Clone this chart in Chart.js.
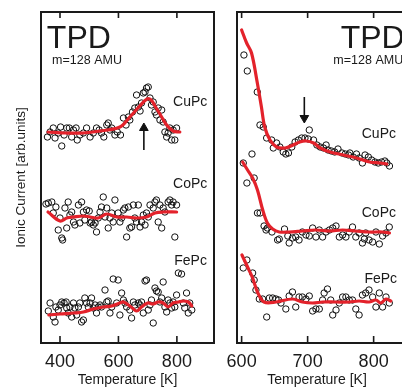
<!DOCTYPE html>
<html><head><meta charset="utf-8">
<script src="https://cdn.jsdelivr.net/npm/chart.js@4.4.1/dist/chart.umd.min.js"></script>
<style>
html,body{margin:0;padding:0;width:402px;height:389px;overflow:hidden;background:#fff;}
#cl{position:absolute;left:0;top:0;width:222px;height:389px;}
#cr{position:absolute;left:222px;top:0;width:200px;height:389px;}
</style></head><body>
<canvas id="cl" width="222" height="389"></canvas>
<canvas id="cr" width="200" height="389"></canvas>
<script>
// ---------- Left panel (400-800 K) ----------
const leftTicks = [400, 600, 800];
const cuLeftT = [357,366,377,383,394,402,406,414,423,432,440,446,455,459,468,480,491,503,514,525,534,542,550,560,565,571,577,588,596,607,617,626,634,639,648,656,662,668,674,679,685,691,696,702,708,713,719,725,730,736,742,748,753,759,765,770,776,782,787,793,799];
const cuLeftI = [206,211,215,205,210,216,197,208,215,215,206,213,215,203,208,210,215,206,210,215,213,210,206,218,220,213,215,208,211,208,225,218,226,223,231,235,248,236,232,240,250,251,255,256,245,238,241,231,228,235,223,233,221,211,206,210,215,203,213,203,215];
const cuLeftFitT = [359,420,479,537,605,639,673,698,712,725,742,765,787,810];
const cuLeftFitI = [211,210,210,212,216,226,237,244,243,237,229,218,212,211];

const coLeftT = [352,360,372,377,386,394,400,406,409,417,423,428,434,440,446,451,463,468,474,480,485,491,500,503,508,514,520,525,531,537,542,548,554,560,565,571,577,582,588,599,605,611,617,622,628,634,639,645,651,656,662,668,674,679,685,691,696,702,708,719,725,730,736,742,748,753,759,770,776,782,787,793,799];
const coLeftI = [139,140,141,130,136,113,125,105,103,135,115,141,128,131,121,118,138,120,141,131,123,133,132,120,121,118,120,111,125,131,136,146,126,135,115,125,130,121,143,130,121,125,133,135,106,136,115,116,138,125,121,138,116,121,128,118,130,126,138,135,141,143,121,138,115,135,131,141,143,138,141,106,138];
const coLeftFitT = [359,400,423,446,480,503,531,560,594,628,662,696,725,753,799];
const coLeftFitI = [131,122,125,126,127,126,125,129,126,126,125,126,130,131,131];

const feLeftT = [360,366,377,383,386,394,400,406,414,421,423,428,434,440,446,451,457,463,468,474,480,485,491,497,503,508,514,520,525,531,537,542,554,560,565,571,577,582,594,599,605,611,617,622,628,639,645,651,656,668,674,679,685,691,696,702,708,713,719,725,730,736,742,748,753,759,765,770,776,782,787,793,799,805,816,822,827,833,839,844,851];
const feLeftI = [32,40,26,21,36,33,38,41,40,41,35,30,36,26,40,35,28,36,40,21,23,45,40,36,40,45,35,38,30,36,38,36,53,41,42,30,36,64,40,63,28,50,43,40,36,33,25,41,38,40,38,41,30,62,63,33,38,43,20,55,52,51,41,45,61,36,31,43,40,35,41,36,48,70,69,40,35,50,30,40,33];
const feLeftFitT = [362,400,446,480,514,548,577,605,617,639,662,679,700,719,736,753,770,787,805,822,839,851];
const feLeftFitI = [28,29,30,31,34,36,37,40,41,37,32,36,40,39,41,40,36,40,41,42,41,37];

// ---------- Right panel (600-800 K) ----------
const rightTicks = [600, 700, 800];
const cuRightT = [603.5,608.6,623.7,627.8,632.8,637.9,645.5,648,653,658,663,667,671,676,681,686,691,696,701,702.5,709,714,719,724,728,731,736,741,746,752,757,762,764,769,774,778,783,787,792,797,802,807,812,817,820,824];
const cuRightI = [288,272,251,218,216,205,203,195,200,196,191,189,190,196,201,203,205,205,204,213,203,198,196,195,198,193,192,191,194,190,189,188,190,186,189,185,180,188,186,183,181,180,181,182,180,177];
const cuRightFitT = [600,607.6,615,623,630,635,643,653,666,678,688,698,709,719,734,754,774,794,810,820];
const cuRightFitI = [313,300,290,263,236,216,203,196,195,198,201,202,200,195,191,188,185,181,180,179];

const coRightT = [602.5,608,615.7,619,624,628,634,637,639,646,654.5,657,665,670,672,677,682,687,692,697.5,702.5,707.6,712.6,717.7,722.7,727.8,733,738,743,748,753,758,763,768,773,778,783,786,788,793,798.5,803.5,808.6,813.6,818.7,823.7];
const coRightI = [180,160,189,165,130,130,117,113,115,111,103,104,114,107,100,105,106,103,111,108,107,115,106,113,106,111,113,115,117,106,108,106,111,116,106,110,100,104,110,103,101,111,99,107,110,116];
const coRightFitT = [601.5,609,616.7,624,632,639,647,657,672,692,712,733,753,773,793,813.6,824];
const coRightFitI = [181,173,165,153,133,120,114,111,111,112,113,112,113,112,111,111,110];

const feRightT = [602.5,608,616.7,619,621.7,626.8,631.8,638,642,647,652,656,659.6,667,672,677,682,687,692,697.5,702.5,707.6,712.6,717.7,722.7,725,730,735,738,743,748,753,758,763,768,773,778,783,788,793,798.5,803.5,808.6,813.6,818.7,823.7];
const feRightI = [75,83,70,63,53,44,44,26,45,45,44,43,40,34,47,51,36,46,46,44,47,32,34,34,43,50,54,43,28,33,40,46,46,43,43,34,28,48,50,53,46,36,50,36,46,40];
const feRightFitT = [600.5,609,616.7,624,634,652,677,692,707.6,722.7,743,763,778,793,803.5,811,818.7,826];
const feRightFitI = [88,76,65,51,41,41,44,41,40,41,41,41,42,41,43,40,44,42];

// arrows: [temperature, tail intensity, head-centre intensity]
const leftArrow = [687, 193, 215];
const rightArrow = [695, 246, 225];

// ---------- helpers ----------
const FONT = "'Liberation Sans', Arial, Helvetica, sans-serif";
const INK = '#1a1a1a';
function pts(T, I) { return T.map((t, i) => ({x: t, y: I[i]})); }
function scatterDs(T, I) {
  return {data: pts(T, I), showLine: false, pointRadius: 3.2, pointHoverRadius: 3.2, pointBorderWidth: 1,
    pointBorderColor: '#111', pointBackgroundColor: 'rgba(255,255,255,0)', order: 3};
}
function fitDs(T, I) {
  return {data: pts(T, I), showLine: true, borderColor: '#e3222b', borderWidth: 3.2, pointRadius: 0,
    pointHoverRadius: 0, tension: 0.35, fill: false, order: 1, borderCapStyle: 'round', borderJoinStyle: 'round'};
}
function arrowDs(a, rot) {
  return {data: [{x: a[0], y: a[1]}, {x: a[0], y: a[2]}], showLine: true, borderColor: '#111', borderWidth: 1.6,
    pointRadius: [0, 5], pointHoverRadius: [0, 5], pointStyle: 'triangle', rotation: [0, rot],
    pointBackgroundColor: '#111', pointBorderColor: '#111', pointBorderWidth: 1, order: 0};
}

const framePlugin = {
  id: 'frame',
  afterDatasetsDraw(chart, args, opts) {
    const {ctx, chartArea: a} = chart;
    const x = chart.scales.x;
    ctx.save();
    ctx.strokeStyle = INK; ctx.lineWidth = 2;
    ctx.beginPath();
    if (opts.full) {
      ctx.rect(a.left, a.top, a.right - a.left, a.bottom - a.top);
    } else {
      ctx.moveTo(chart.width, a.top); ctx.lineTo(a.left, a.top);
      ctx.lineTo(a.left, a.bottom); ctx.lineTo(chart.width, a.bottom);
    }
    ctx.stroke();
    ctx.lineWidth = 1.6;
    ctx.beginPath();
    for (const t of x.ticks) {
      const px = x.getPixelForValue(t.value);
      ctx.moveTo(px, a.top); ctx.lineTo(px, a.top + 6);
      ctx.moveTo(px, a.bottom); ctx.lineTo(px, a.bottom - 7);
    }
    ctx.stroke();
    ctx.restore();
  }
};
const labelPlugin = {
  id: 'labels',
  afterDraw(chart, args, opts) {
    const {ctx} = chart;
    const x = chart.scales.x, y = chart.scales.y;
    ctx.save();
    ctx.fillStyle = INK; ctx.textAlign = 'left'; ctx.textBaseline = 'alphabetic';
    for (const l of opts.items) {
      ctx.font = l.size + 'px ' + FONT;
      ctx.fillText(l.text, x.getPixelForValue(l.x), y.getPixelForValue(l.y));
    }
    ctx.restore();
  }
};

function makeChart(id, cfg) {
  return new Chart(document.getElementById(id), {
    type: 'scatter',
    data: {datasets: cfg.datasets},
    plugins: [framePlugin, labelPlugin],
    options: {
      responsive: false, animation: false, devicePixelRatio: 1,
      events: [],
      layout: {padding: cfg.padding},
      plugins: {legend: {display: false}, tooltip: {enabled: false},
        frame: {full: cfg.full}, labels: {items: cfg.labels}},
      scales: {
        x: {type: 'linear', min: cfg.xmin, max: cfg.xmax,
          afterBuildTicks: s => { s.ticks = cfg.ticks.map(v => ({value: v})); },
          grid: {display: false, drawTicks: false}, border: {display: false},
          ticks: {font: {size: 18, family: FONT}, color: INK, padding: 8, maxRotation: 0, autoSkip: false},
          title: {display: true, text: 'Temperature [K]', color: INK, font: {size: 14, family: FONT}, padding: {top: 0, bottom: 0}},
          afterFit: s => { s.height = 46; s.paddingLeft = 0; s.paddingRight = 0; }},
        y: {type: 'linear', min: 0, max: 331, display: cfg.showY,
          ticks: {display: false}, grid: {display: false, drawTicks: false}, border: {display: false},
          title: {display: true, text: 'Ionic Current [arb.units]', color: INK, font: {size: 13.5, family: FONT}, padding: {top: 13, bottom: 0}},
          afterFit: s => { s.width = cfg.showY ? 41 : 0; s.paddingTop = 0; s.paddingBottom = 0; }}
      }
    }
  });
}

makeChart('cl', {
  xmin: 335, xmax: 927, ticks: leftTicks, full: true, showY: true,
  padding: {left: 0, right: 8, top: 12, bottom: 0},
  datasets: [
    fitDs(cuLeftFitT, cuLeftFitI), fitDs(coLeftFitT, coLeftFitI), fitDs(feLeftFitT, feLeftFitI),
    scatterDs(cuLeftT, cuLeftI), scatterDs(coLeftT, coLeftI), scatterDs(feLeftT, feLeftI),
    arrowDs(leftArrow, 0)
  ],
  labels: [
    {text: 'TPD', x: 355, y: 295, size: 32},
    {text: 'm=128 AMU', x: 373, y: 279, size: 12.5},
    {text: 'CuPc', x: 787, y: 237, size: 14},
    {text: 'CoPc', x: 787, y: 155, size: 14},
    {text: 'FePc', x: 791, y: 78, size: 14}
  ]
});

makeChart('cr', {
  xmin: 593, xmax: 835.4, ticks: rightTicks, full: false, showY: false,
  padding: {left: 15, right: 25, top: 12, bottom: 0},
  datasets: [
    fitDs(cuRightFitT, cuRightFitI), fitDs(coRightFitT, coRightFitI), fitDs(feRightFitT, feRightFitI),
    scatterDs(cuRightT, cuRightI), scatterDs(coRightT, coRightI), scatterDs(feRightT, feRightI),
    arrowDs(rightArrow, 180)
  ],
  labels: [
    {text: 'TPD', x: 750, y: 295, size: 32},
    {text: 'm=128 AMU', x: 739, y: 279, size: 12.5},
    {text: 'CuPc', x: 782, y: 205, size: 14},
    {text: 'CoPc', x: 782, y: 126, size: 14},
    {text: 'FePc', x: 786, y: 60, size: 14}
  ]
});
</script></body></html>
